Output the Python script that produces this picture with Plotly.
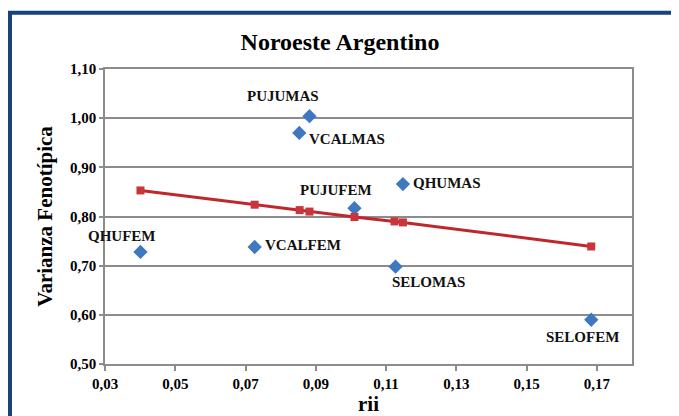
import plotly.graph_objects as go

# Observed points
labels = ["QHUFEM", "VCALFEM", "VCALMAS", "PUJUMAS", "PUJUFEM", "SELOMAS", "QHUMAS", "SELOFEM"]
rii = [0.0401, 0.0726, 0.0853, 0.0882, 0.1010, 0.1127, 0.1148, 0.1684]
varianza = [0.728, 0.738, 0.970, 1.004, 0.817, 0.698, 0.866, 0.590]

# Fitted line (red)
fit_x = [0.0401, 0.0726, 0.0854, 0.0882, 0.1010, 0.1124, 0.1148, 0.1684]
fit_y = [0.853, 0.824, 0.813, 0.810, 0.799, 0.790, 0.788, 0.739]

x_ticks = [0.03, 0.05, 0.07, 0.09, 0.11, 0.13, 0.15, 0.17]
x_tick_text = ["0,03", "0,05", "0,07", "0,09", "0,11", "0,13", "0,15", "0,17"]
y_ticks = [0.50, 0.60, 0.70, 0.80, 0.90, 1.00, 1.10]
y_tick_text = ["0,50", "0,60", "0,70", "0,80", "0,90", "1,00", "1,10"]

# label placement styles: (xanchor, yanchor, xshift, yshift)
label_pos = {
    "QHUFEM": ("center", "bottom", -18, 6),
    "VCALFEM": ("left", "middle", 8, 2),
    "VCALMAS": ("left", "middle", 8, -6),
    "PUJUMAS": ("center", "bottom", -26, 10),
    "PUJUFEM": ("center", "bottom", -18, 8),
    "SELOMAS": ("left", "top", -6, -5),
    "QHUMAS": ("left", "middle", 8, 1),
    "SELOFEM": ("center", "top", -9, -7),
}

FF = "Liberation Serif"

fig = go.Figure()
fig.add_trace(go.Scatter(
    x=rii, y=varianza, mode="markers",
    marker=dict(symbol="diamond", size=11, color="#3E78C1"),
    showlegend=False, hoverinfo="skip"))
fig.add_trace(go.Scatter(
    x=fit_x, y=fit_y, mode="lines+markers",
    line=dict(color="#C0272D", width=3),
    marker=dict(symbol="square", size=8, color="#C9353A"),
    showlegend=False, hoverinfo="skip"))

for lab, xv, yv in zip(labels, rii, varianza):
    xa, ya, xs, ys = label_pos[lab]
    fig.add_annotation(x=xv, y=yv, text="<b>" + lab + "</b>", showarrow=False,
                       xanchor=xa, yanchor=ya, xshift=xs, yshift=ys,
                       font=dict(family=FF, size=15, color="#111111"))

# blue frame (page body has an 8px offset)
fig.add_shape(type="rect", xref="paper", yref="paper",
              x0=-0.1803, x1=1.3, y0=-0.5, y1=1.1908,
              line=dict(color="#17427A", width=4), layer="below")

fig.update_layout(
    width=671, height=408,
    margin=dict(l=97, r=47, t=61, b=52, autoexpand=False),
    paper_bgcolor="white", plot_bgcolor="white",
    title=dict(text="<b>Noroeste Argentino</b>", x=(332 / 671), xanchor="center",
               y=1 - 34 / 408, yanchor="middle",
               font=dict(family=FF, size=24, color="black")),
    font=dict(family=FF, color="black"),
    xaxis=dict(range=[0.03, 0.18], tickvals=x_ticks, ticktext=["<b>" + t + "</b>" for t in x_tick_text],
               showgrid=False, zeroline=False, automargin=False,
               showline=True, linecolor="#8C8C8C", linewidth=1.5, mirror=True,
               ticks="outside", ticklen=5, tickcolor="#8C8C8C", tickwidth=1.5,
               tickfont=dict(family=FF, size=15, color="black"),
               title=dict(text="<b>rii</b>", standoff=6,
                          font=dict(family=FF, size=21, color="black"))),
    yaxis=dict(range=[0.50, 1.10], tickvals=y_ticks, ticktext=["<b>" + t + "</b>" for t in y_tick_text],
               showgrid=True, gridcolor="#8C8C8C", gridwidth=1.5, zeroline=False, automargin=False,
               showline=True, linecolor="#8C8C8C", linewidth=1.5, mirror=True,
               ticks="outside", ticklen=4, tickcolor="#8C8C8C", tickwidth=1.5,
               tickfont=dict(family=FF, size=15, color="black"),
               title=dict(text="<b>Varianza Fenotípica</b>", standoff=12,
                          font=dict(family=FF, size=21, color="black"))),
)

fig.write_html("out.html")
